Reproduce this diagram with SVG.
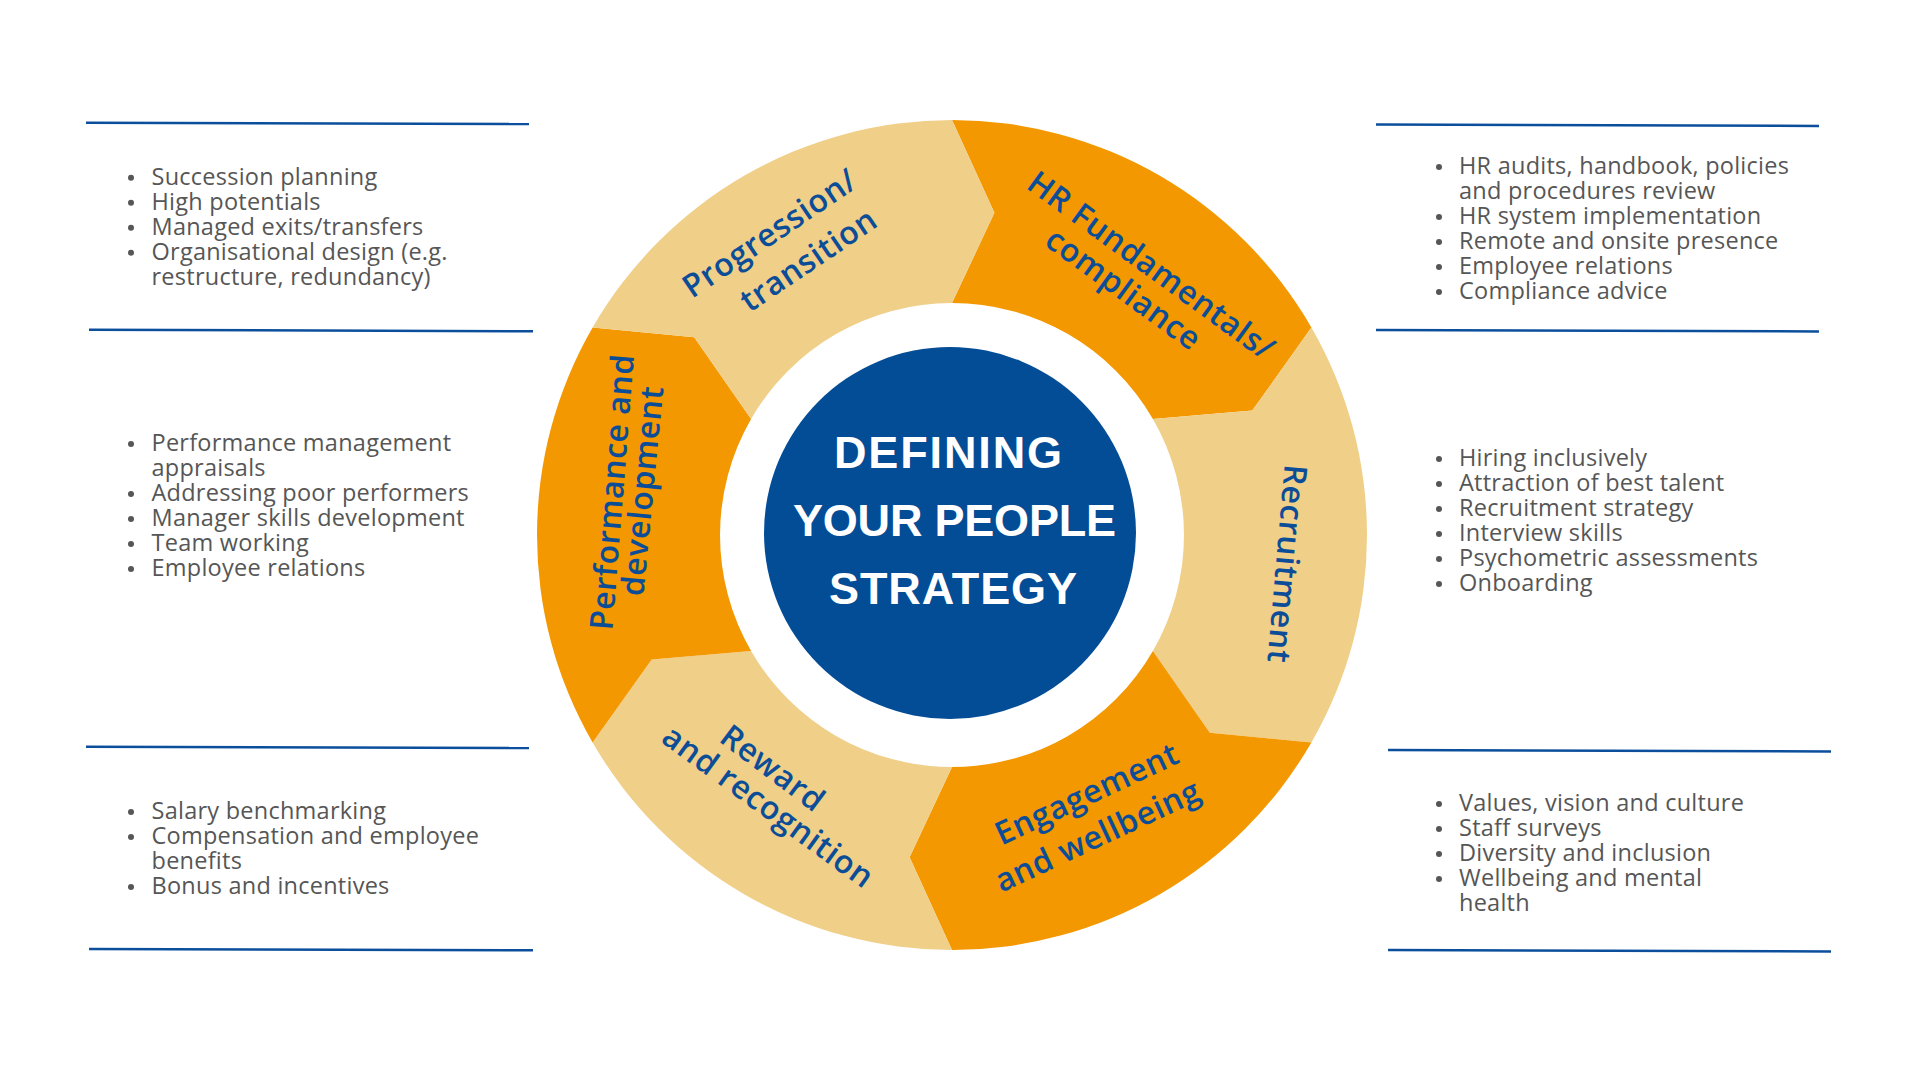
<svg xmlns="http://www.w3.org/2000/svg" width="1920" height="1080" viewBox="0 0 1920 1080">
<style>
.org{fill:#F39800}
.lt{fill:#F0CF89}
.lbl{font-family:"Open Sans","Noto Sans",sans-serif;font-weight:600;fill:#0C4D98;font-size:32px;letter-spacing:0.6px;text-anchor:middle}
.ctr{font-family:"Liberation Sans",Arial,sans-serif;font-weight:700;fill:#FFFFFF;font-size:45px}
.bt{font-family:"Open Sans","Noto Sans",sans-serif;font-size:23.5px;letter-spacing:0.25px;fill:#565656}
.dot{fill:#565656}
.sep{stroke:#0B4F9C;stroke-width:2.5;fill:none}
</style>
<rect width="1920" height="1080" fill="#FFFFFF"/>

<g id="seg-hr">
<path class="org" d="M952 120 A415 415 0 0 1 1311.4 327.5 L1252.3 410.6 L1152.9 419 A232 232 0 0 0 952 303 L994.4 212.8 Z"/>
<text class="lbl" font-size="31" transform="translate(1144.7 274.4) rotate(36)">HR Fundamentals/</text>
<text class="lbl" font-size="31" transform="translate(1117.1 298) rotate(36)">compliance</text>
</g>
<g id="seg-recruitment">
<path class="lt" d="M1311.4 327.5 A415 415 0 0 1 1311.4 742.5 L1209.8 732.8 L1152.9 651 A232 232 0 0 0 1152.9 419 L1252.3 410.6 Z"/>
<text class="lbl" transform="translate(1276 563) rotate(95)">Recruitment</text>
</g>
<g id="seg-engagement">
<path class="org" d="M1311.4 742.5 A415 415 0 0 1 952 950 L909.6 857.2 L952 767 A232 232 0 0 0 1152.9 651 L1209.8 732.8 Z"/>
<text class="lbl" transform="translate(1091.6 803.7) rotate(-25)">Engagement</text>
<text class="lbl" transform="translate(1102.3 845.7) rotate(-25)">and wellbeing</text>
</g>
<g id="seg-reward">
<path class="lt" d="M952 950 A415 415 0 0 1 592.6 742.5 L651.7 659.4 L751.1 651 A232 232 0 0 0 952 767 L909.6 857.2 Z"/>
<text class="lbl" transform="translate(766.1 777) rotate(37)">Reward</text>
<text class="lbl" transform="translate(761.8 815.5) rotate(36)">and recognition</text>
</g>
<g id="seg-performance">
<path class="org" d="M592.6 742.5 A415 415 0 0 1 592.6 327.5 L694.2 337.2 L751.1 419 A232 232 0 0 0 751.1 651 L651.7 659.4 Z"/>
<text class="lbl" font-size="30" transform="translate(623.2 492.8) rotate(-85.5)">Performance and</text>
<text class="lbl" font-size="30" transform="translate(653.3 491.9) rotate(-84.5)">development</text>
</g>
<g id="seg-progression">
<path class="lt" d="M592.6 327.5 A415 415 0 0 1 952 120 L994.4 212.8 L952 303 A232 232 0 0 0 751.1 419 L694.2 337.2 Z"/>
<text class="lbl" transform="translate(775.9 242.4) rotate(-34)">Progression/</text>
<text class="lbl" transform="translate(814.6 269.1) rotate(-34)">transition</text>
</g>

<g id="center">
<circle cx="950" cy="533" r="186" fill="#034C96"/>
<text class="ctr" x="834" y="468" textLength="228">DEFINING</text>
<text class="ctr" x="793" y="536" textLength="323">YOUR PEOPLE</text>
<text class="ctr" x="829" y="604" textLength="248">STRATEGY</text>
</g>

<g id="separators">
<line class="sep" x1="86" y1="122.7" x2="529" y2="124"/>
<line class="sep" x1="89" y1="329.7" x2="533" y2="331.3"/>
<line class="sep" x1="86" y1="746.7" x2="529" y2="748"/>
<line class="sep" x1="89" y1="949" x2="533" y2="950.3"/>
<line class="sep" x1="1376" y1="124.5" x2="1819" y2="126"/>
<line class="sep" x1="1376" y1="330" x2="1819" y2="331.5"/>
<line class="sep" x1="1388" y1="750" x2="1831" y2="751.5"/>
<line class="sep" x1="1388" y1="950" x2="1831" y2="951.5"/>
</g>

<g id="list-progression">
<circle class="dot" cx="131" cy="177.7" r="3"/>
<circle class="dot" cx="131" cy="202.7" r="3"/>
<circle class="dot" cx="131" cy="227.7" r="3"/>
<circle class="dot" cx="131" cy="252.7" r="3"/>
<text class="bt" x="151.5" y="185">Succession planning</text>
<text class="bt" x="151.5" y="210">High potentials</text>
<text class="bt" x="151.5" y="235">Managed exits/transfers</text>
<text class="bt" x="151.5" y="260">Organisational design (e.g.</text>
<text class="bt" x="151.5" y="285">restructure, redundancy)</text>
</g>

<g id="list-performance">
<circle class="dot" cx="131" cy="444" r="3"/>
<circle class="dot" cx="131" cy="494" r="3"/>
<circle class="dot" cx="131" cy="519" r="3"/>
<circle class="dot" cx="131" cy="544" r="3"/>
<circle class="dot" cx="131" cy="569" r="3"/>
<text class="bt" x="151.5" y="451">Performance management</text>
<text class="bt" x="151.5" y="476">appraisals</text>
<text class="bt" x="151.5" y="501">Addressing poor performers</text>
<text class="bt" x="151.5" y="526">Manager skills development</text>
<text class="bt" x="151.5" y="551">Team working</text>
<text class="bt" x="151.5" y="576">Employee relations</text>
</g>

<g id="list-reward">
<circle class="dot" cx="131" cy="812" r="3"/>
<circle class="dot" cx="131" cy="837" r="3"/>
<circle class="dot" cx="131" cy="887" r="3"/>
<text class="bt" x="151.5" y="819">Salary benchmarking</text>
<text class="bt" x="151.5" y="844">Compensation and employee</text>
<text class="bt" x="151.5" y="869">benefits</text>
<text class="bt" x="151.5" y="894">Bonus and incentives</text>
</g>

<g id="list-hr">
<circle class="dot" cx="1439" cy="167" r="3"/>
<circle class="dot" cx="1439" cy="217" r="3"/>
<circle class="dot" cx="1439" cy="242" r="3"/>
<circle class="dot" cx="1439" cy="267" r="3"/>
<circle class="dot" cx="1439" cy="292" r="3"/>
<text class="bt" x="1459" y="174">HR audits, handbook, policies</text>
<text class="bt" x="1459" y="199">and procedures review</text>
<text class="bt" x="1459" y="224">HR system implementation</text>
<text class="bt" x="1459" y="249">Remote and onsite presence</text>
<text class="bt" x="1459" y="274">Employee relations</text>
<text class="bt" x="1459" y="299">Compliance advice</text>
</g>

<g id="list-recruitment">
<circle class="dot" cx="1439" cy="459" r="3"/>
<circle class="dot" cx="1439" cy="484" r="3"/>
<circle class="dot" cx="1439" cy="509" r="3"/>
<circle class="dot" cx="1439" cy="534" r="3"/>
<circle class="dot" cx="1439" cy="559" r="3"/>
<circle class="dot" cx="1439" cy="584" r="3"/>
<text class="bt" x="1459" y="466">Hiring inclusively</text>
<text class="bt" x="1459" y="491">Attraction of best talent</text>
<text class="bt" x="1459" y="516">Recruitment strategy</text>
<text class="bt" x="1459" y="541">Interview skills</text>
<text class="bt" x="1459" y="566">Psychometric assessments</text>
<text class="bt" x="1459" y="591">Onboarding</text>
</g>

<g id="list-engagement">
<circle class="dot" cx="1439" cy="804" r="3"/>
<circle class="dot" cx="1439" cy="829" r="3"/>
<circle class="dot" cx="1439" cy="854" r="3"/>
<circle class="dot" cx="1439" cy="879" r="3"/>
<text class="bt" x="1459" y="811">Values, vision and culture</text>
<text class="bt" x="1459" y="836">Staff surveys</text>
<text class="bt" x="1459" y="861">Diversity and inclusion</text>
<text class="bt" x="1459" y="886">Wellbeing and mental</text>
<text class="bt" x="1459" y="911">health</text>
</g>
</svg>
